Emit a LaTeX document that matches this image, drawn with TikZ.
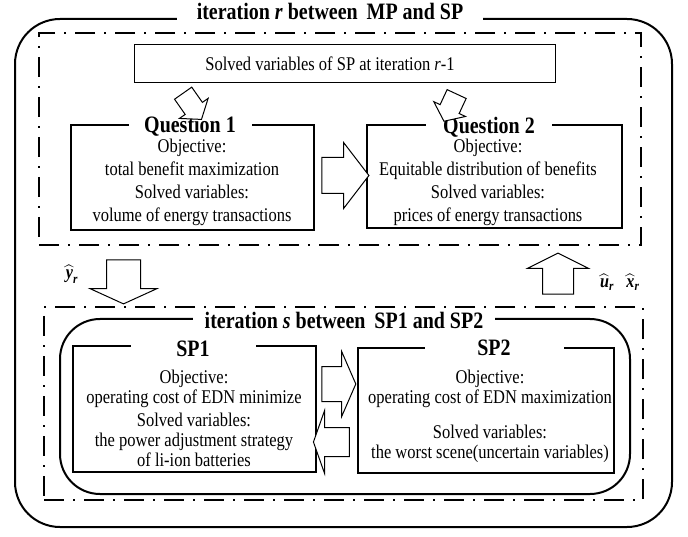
\documentclass[tikz,border=0pt]{standalone}
\usepackage{fontspec}
\usepackage{amsmath}
\setmainfont{Liberation Serif}[FakeStretch=0.85]
\usetikzlibrary{shapes.arrows}
\begin{document}
\begin{tikzpicture}[x=1pt,y=-1pt]

	\tikzstyle{outerframe}=[draw=black,line width=2pt,rounded corners=45pt,
		inner sep=0pt]
	\tikzstyle{dashframe}=[draw=black,line width=2.2pt,inner sep=0pt,
		dash pattern=on 20pt off 9pt on 2pt off 9pt]
	\tikzstyle{box}=[draw=black,line width=1.5pt,inner sep=0pt]
	\tikzstyle{boxtitle}=[fill=white,inner sep=0pt,
		text height=16pt,text depth=4pt,
		font=\fontsize{23.5}{26}\selectfont\bfseries]
	\tikzstyle{boxtext}=[align=center,inner sep=0pt,
		font=\fontsize{19.4}{23}\selectfont]
	\tikzstyle{blockarrow}=[single arrow,draw=black,line width=1pt,
		fill=white,inner xsep=0pt]
	\tikzstyle{hatlabel}=[inner sep=0pt,font=\fontsize{19}{20}\selectfont]

	\useasboundingbox (0,0) rectangle (688,537);

	% frames
	\node[outerframe,minimum width=657pt,minimum height=508pt] (outer) at (343.5,273) {};
	\node[dashframe,minimum width=602pt,minimum height=212pt] (mp) at (340,139) {};
	\node[dashframe,minimum width=599pt,minimum height=193pt] (sp) at (343.5,403.5) {};
	\node[outerframe,rounded corners=40pt,minimum width=570pt,minimum height=175pt] (inner) at (345,406.5) {};
	\node[boxtitle,minimum width=306pt] (outert) at (330,14) {iteration \textit{r} between\, MP and SP};
	\node[boxtitle,minimum width=302pt] (innert) at (344,323) {iteration \textit{s} between\, SP1 and SP2};

	% master problem
	\node[box,line width=1pt,minimum width=421pt,minimum height=38pt] (solved) at (344.5,64) {};
	\node[boxtext] (solvedt) at (330,64) {Solved variables of SP at iteration \textit{r}-1};

	\node[box,minimum width=243pt,minimum height=105pt] (q1) at (192.5,177.5) {};
	\node[boxtitle,minimum width=123pt] (q1t) at (190,127) {Question 1};
	\node[boxtext] (q1b) at (192,182.5) {Objective:\\total benefit maximization\\Solved variables:\\volume of energy transactions};

	\node[box,minimum width=255pt,minimum height=103pt] (q2) at (494.5,176.5) {};
	\node[boxtitle,minimum width=126pt] (q2t) at (489,128) {Question 2};
	\node[boxtext] (q2b) at (488,182) {Objective:\\Equitable distribution of benefits\\Solved variables:\\prices of energy transactions};

	\node[blockarrow,inner ysep=10pt,minimum height=32pt,single arrow head extend=7pt,
		single arrow tip angle=105,rotate=305] (a1) at (190,103) {};
	\node[blockarrow,inner ysep=10pt,minimum height=30pt,single arrow head extend=7pt,
		single arrow tip angle=105,rotate=245] (a2) at (452,104) {};
	\node[blockarrow,inner ysep=17.5pt,minimum height=47pt,single arrow head extend=15pt,
		single arrow tip angle=105] (a3) at (338.5,175.5) {};

	% between MP and SP
	\node[blockarrow,inner ysep=16.5pt,minimum height=44pt,single arrow head extend=16.5pt,
		single arrow tip angle=131,rotate=270] (down) at (123.5,278) {};
	\node[blockarrow,inner ysep=15pt,minimum height=41pt,single arrow head extend=15pt,
		single arrow tip angle=127,rotate=90] (up) at (558,277.5) {};
	\node[hatlabel] (yr) at (72,274) {$\widehat{\textbf{\textit{y}}}_{\textbf{\textit{r}}}$};
	\node[hatlabel] (ur) at (607,282) {$\widehat{\textbf{\textit{u}}}_{\textbf{\textit{r}}}$};
	\node[hatlabel] (xr) at (633,282) {$\widehat{\textbf{\textit{x}}}_{\textbf{\textit{r}}}$};

	% subproblems
	\node[box,line width=1.3pt,minimum width=243pt,minimum height=126pt] (sp1) at (194.5,409) {};
	\node[boxtitle,minimum width=125pt] (sp1t) at (193,350) {SP1};
	\node[boxtext,font=\fontsize{19.4}{20}\selectfont] (sp1b) at (194,418) {Objective:\\operating cost of EDN minimize\\[3pt]Solved variables:\\the power adjustment strategy\\of li-ion batteries};

	\node[box,line width=1.3pt,minimum width=256pt,minimum height=125pt] (sp2) at (486,410.5) {};
	\node[boxtitle,minimum width=139pt] (sp2t) at (494,349) {SP2};
	\node[boxtext,font=\fontsize{19.4}{20}\selectfont] (sp2b) at (490,416) {Objective:\\operating cost of EDN maximization\\[15pt]Solved variables:\\the worst scene(uncertain variables)};

	\node[blockarrow,inner ysep=17pt,minimum height=34pt,single arrow head extend=15pt,
		single arrow tip angle=133] (a4) at (335,384) {};
	\node[blockarrow,inner ysep=14pt,minimum height=36pt,single arrow head extend=17pt,
		single arrow tip angle=141,rotate=180] (a5) at (334,442) {};

\end{tikzpicture}
\end{document}
